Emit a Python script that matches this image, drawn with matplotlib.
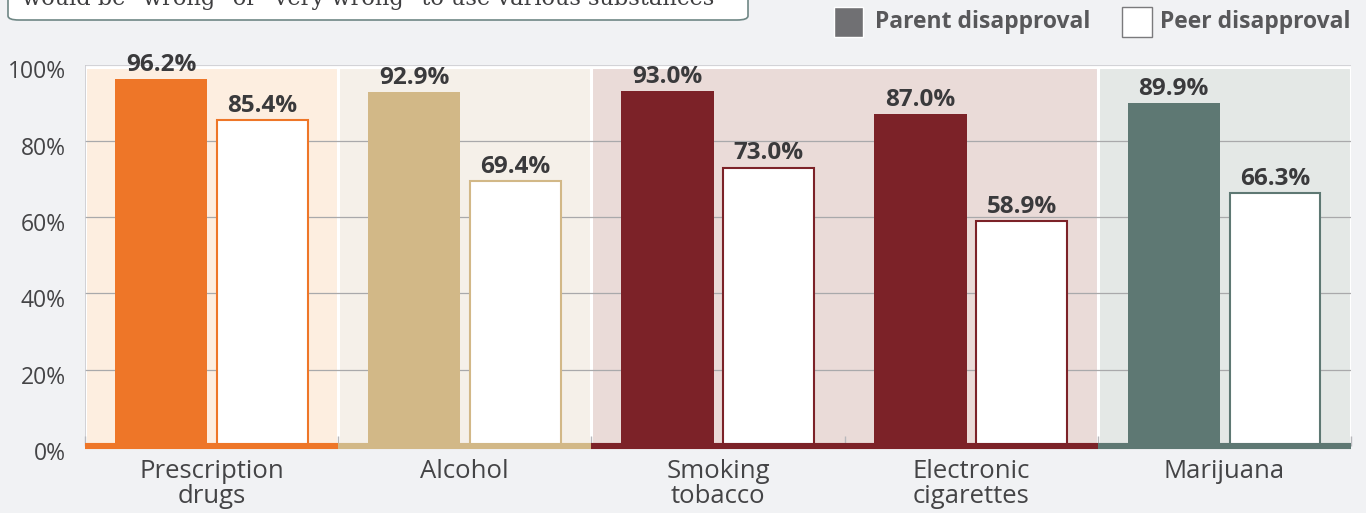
import matplotlib
matplotlib.use("Agg")
import matplotlib.pyplot as plt
import matplotlib.transforms as mtransforms
from matplotlib.patches import Rectangle, FancyBboxPatch

categories = ["Prescription\ndrugs", "Alcohol", "Smoking\ntobacco",
              "Electronic\ncigarettes", "Marijuana"]
parent = [96.2, 92.9, 93.0, 87.0, 89.9]
peer = [85.4, 69.4, 73.0, 58.9, 66.3]
yticks = [0, 20, 40, 60, 80, 100]
ytick_labels = ["0%", "20%", "40%", "60%", "80%", "100%"]
legend_labels = ["Parent disapproval", "Peer disapproval"]
title_text = 'would be "wrong" or "very wrong" to use various substances'

# one colour per category, plus the shaded bands behind the groups
bar_colors = ["#ee7628", "#d2b887", "#7c2228", "#7c2228", "#5e7873"]
bands = [(-0.5, 0.5, "#fdeee0"), (0.5, 1.5, "#f5f0e9"),
         (1.5, 3.5, "#eadbd8"), (3.5, 4.5, "#e4e8e6")]

BG = "#f1f2f4"
TEXT = "#3a3a3c"

plt.rcParams["font.family"] = ["Open Sans", "DejaVu Sans"]

fig = plt.figure(figsize=(13.66, 5.13), dpi=100, facecolor=BG)
ax = fig.add_axes([85 / 1366, 67 / 513, 1266 / 1366, 381.5 / 513])
ax.set_facecolor(BG)
ax.set_xlim(-0.5, 4.5)
ax.set_ylim(0, 100)

for x0, x1, c in bands:
    ax.add_patch(Rectangle((x0, 0), x1 - x0, 99.3, facecolor=c,
                           edgecolor="white", linewidth=2.2, zorder=0))

for y in [20, 40, 60, 80]:
    ax.axhline(y, color="#a9a9ab", linewidth=0.9, zorder=1)
ax.axhline(100, color="#d3d3d7", linewidth=1.6, zorder=1)
ax.axvline(-0.5, ymax=1, color="#cacace", linewidth=1.2, zorder=1)

w = 0.365
off = 0.2
xs = range(len(categories))
for i in xs:
    c = bar_colors[i]
    ax.bar(i - off, parent[i], width=w, color=c, linewidth=0, zorder=2)
    ax.bar(i + off, peer[i], width=w - 0.006, facecolor="white",
           edgecolor=c, linewidth=1.5, zorder=2)
    for x, v in [(i - off, parent[i]), (i + off, peer[i])]:
        ax.annotate(f"{v:.1f}%", (x, v), xytext=(0, 1.5),
                    textcoords="offset points", ha="center", va="bottom",
                    fontsize=17.5, fontweight="bold", color=TEXT,
                    annotation_clip=False, zorder=4)
    # coloured strip along the baseline
    ax.plot([i - 0.5, i + 0.5], [0, 0], color=c, linewidth=4.4,
            solid_capstyle="butt", zorder=3, clip_on=False)

for s in ax.spines.values():
    s.set_visible(False)

ax.set_yticks(yticks)
ax.set_yticklabels(ytick_labels, fontsize=16.5, color="#444446")
ax.tick_params(axis="y", length=0, pad=14)
shift = mtransforms.ScaledTranslation(0, -5 / 100, fig.dpi_scale_trans)
for lab in ax.get_yticklabels():
    lab.set_transform(lab.get_transform() + shift)

ax.set_xticks(list(xs))
ax.set_xticklabels(categories, fontsize=18.5, color="#444446", linespacing=1.05)
ax.tick_params(axis="x", length=0, pad=9)
ax.set_xticks([-0.5, 0.5, 1.5, 2.5, 3.5, 4.5], minor=True)
ax.tick_params(axis="x", which="minor", direction="in", length=7,
               color="#b8b8bc", width=1)

# legend drawn by hand at the top right
fig.patches.append(Rectangle((834 / 1366, 1 - 37 / 513), 29 / 1366, 30 / 513,
                             transform=fig.transFigure, facecolor="#707073",
                             edgecolor="white", linewidth=1))
fig.text(875 / 1366, 1 - 22 / 513, legend_labels[0], fontsize=16.5,
         fontweight="bold", color="#58585a", va="center", ha="left")
fig.patches.append(Rectangle((1122 / 1366, 1 - 37 / 513), 30 / 1366, 30 / 513,
                             transform=fig.transFigure, facecolor="white",
                             edgecolor="#7a7a7c", linewidth=1))
fig.text(1160 / 1366, 1 - 22 / 513, legend_labels[1], fontsize=16.5,
         fontweight="bold", color="#58585a", va="center", ha="left")

# title box running off the top edge
fig.patches.append(FancyBboxPatch((8 / 1366, 1 - 20 / 513), 740 / 1366, 60 / 513,
                                  boxstyle="round,pad=0,rounding_size=0.008",
                                  transform=fig.transFigure, facecolor="white",
                                  edgecolor="#6f8785", linewidth=1.2))
fig.text(22 / 1366, 1 - 5 / 513, title_text, fontsize=16.2,
         family=["DejaVu Serif"], color="#3e3e40", va="baseline", ha="left")

fig.savefig("out.png", dpi=100, facecolor=BG)
